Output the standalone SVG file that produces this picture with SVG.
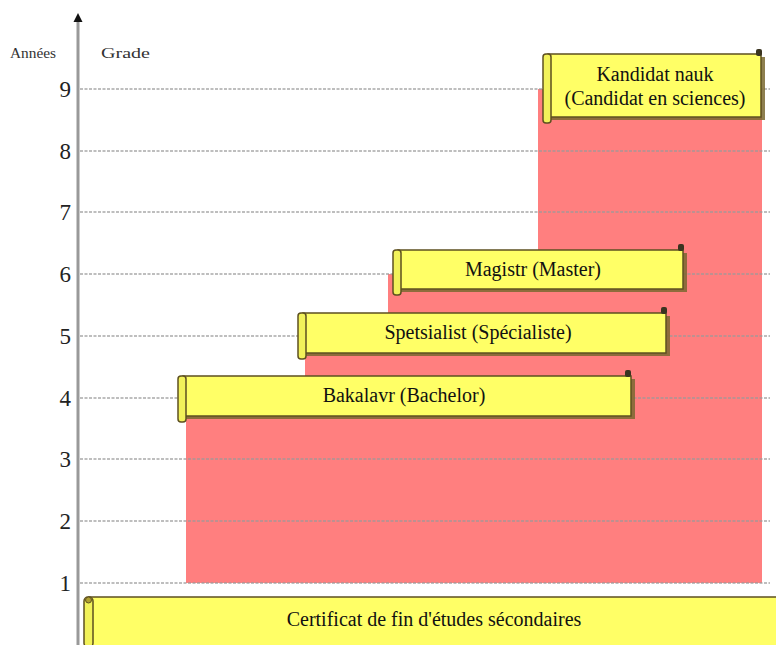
<svg xmlns="http://www.w3.org/2000/svg" width="776" height="645" viewBox="0 0 776 645">
<defs>
<style>
.grid{stroke:#9a9a9a;stroke-width:1.5;stroke-dasharray:3 1.5;fill:none;opacity:0.85}
.num{font-family:"Liberation Serif","Times New Roman",serif;font-size:23px;fill:#222;text-anchor:end}
.hdr{font-family:"Liberation Serif","Times New Roman",serif;font-size:14px;fill:#333}
.shadow{fill:#7a6830;opacity:0.85}
.body{fill:#ffff66;stroke:#5e5020;stroke-width:1.5}
.curl{fill:#f2f25a;stroke:#5e5020;stroke-width:1.5}
.nub{fill:#3a3420}
.lbl{font-family:"Liberation Serif","Times New Roman",serif;font-size:20px;fill:#111;text-anchor:middle}
</style>
</defs>
<rect width="776" height="645" fill="#ffffff"/>
<g id="stairs">
<polygon points="186,583 186,398 305,398 305,336 388,336 388,274 538,274 538,89 762,89 762,583" fill="#ff7f7f"/>
</g>
<g id="gridlines">
<line class="grid" x1="80" y1="89" x2="770" y2="89"/>
<line class="grid" x1="80" y1="151" x2="770" y2="151"/>
<line class="grid" x1="80" y1="212" x2="770" y2="212"/>
<line class="grid" x1="80" y1="274" x2="770" y2="274"/>
<line class="grid" x1="80" y1="336" x2="770" y2="336"/>
<line class="grid" x1="80" y1="398" x2="770" y2="398"/>
<line class="grid" x1="80" y1="459" x2="770" y2="459"/>
<line class="grid" x1="80" y1="521" x2="770" y2="521"/>
<line class="grid" x1="80" y1="583" x2="770" y2="583"/>
</g>
<g id="axis">
<line x1="78" y1="20" x2="78" y2="645" stroke="#999999" stroke-width="3"/>
<polygon points="78,13 73.5,22 82.5,22" fill="#111"/>
<text class="hdr" x="10" y="58" textLength="46" lengthAdjust="spacingAndGlyphs">Années</text>
<text class="hdr" x="101" y="58" textLength="49" lengthAdjust="spacingAndGlyphs">Grade</text>
<text class="num" x="71" y="97">9</text>
<text class="num" x="71" y="159">8</text>
<text class="num" x="71" y="220">7</text>
<text class="num" x="71" y="282">6</text>
<text class="num" x="71" y="344">5</text>
<text class="num" x="71" y="406">4</text>
<text class="num" x="71" y="467">3</text>
<text class="num" x="71" y="529">2</text>
<text class="num" x="71" y="591">1</text>
</g>
<g id="kandidat">
<rect class="shadow" x="550" y="57" width="215" height="63"/>
<rect class="body" x="548" y="54" width="213" height="63"/>
<rect class="nub" x="756" y="49" width="6" height="7" rx="2"/>
<rect class="curl" x="543" y="54" width="8" height="69" rx="3"/>
<text class="lbl" x="655" y="81">Kandidat nauk</text>
<text class="lbl" x="655" y="105">(Candidat en sciences)</text>
</g>
<g id="magistr">
<rect class="shadow" x="400" y="253" width="287" height="39"/>
<rect class="body" x="398" y="250" width="285" height="39"/>
<rect class="nub" x="678" y="244" width="6" height="7" rx="2"/>
<rect class="curl" x="393" y="250" width="8" height="45" rx="3"/>
<text class="lbl" x="533" y="276">Magistr (Master)</text>
</g>
<g id="spetsialist">
<rect class="shadow" x="305" y="316" width="365" height="40"/>
<rect class="body" x="303" y="313" width="363" height="40"/>
<rect class="nub" x="661" y="307" width="6" height="7" rx="2"/>
<rect class="curl" x="298" y="313" width="8" height="46" rx="3"/>
<text class="lbl" x="478" y="339">Spetsialist (Spécialiste)</text>
</g>
<g id="bakalavr">
<rect class="shadow" x="185" y="379" width="450" height="40"/>
<rect class="body" x="183" y="376" width="448" height="40"/>
<rect class="nub" x="625" y="370" width="6" height="7" rx="2"/>
<rect class="curl" x="178" y="376" width="8" height="46" rx="3"/>
<text class="lbl" x="404" y="402">Bakalavr (Bachelor)</text>
</g>
<g id="certificat">
<rect class="shadow" x="91" y="600" width="690" height="50"/>
<rect class="body" x="89" y="597" width="690" height="50"/>
<rect class="curl" x="84" y="597" width="9" height="50" rx="4"/>
<circle cx="88.5" cy="600" r="3" fill="#b0a030" stroke="#5e5020" stroke-width="1"/>
<text class="lbl" x="434" y="626">Certificat de fin d'études sécondaires</text>
</g>
</svg>
